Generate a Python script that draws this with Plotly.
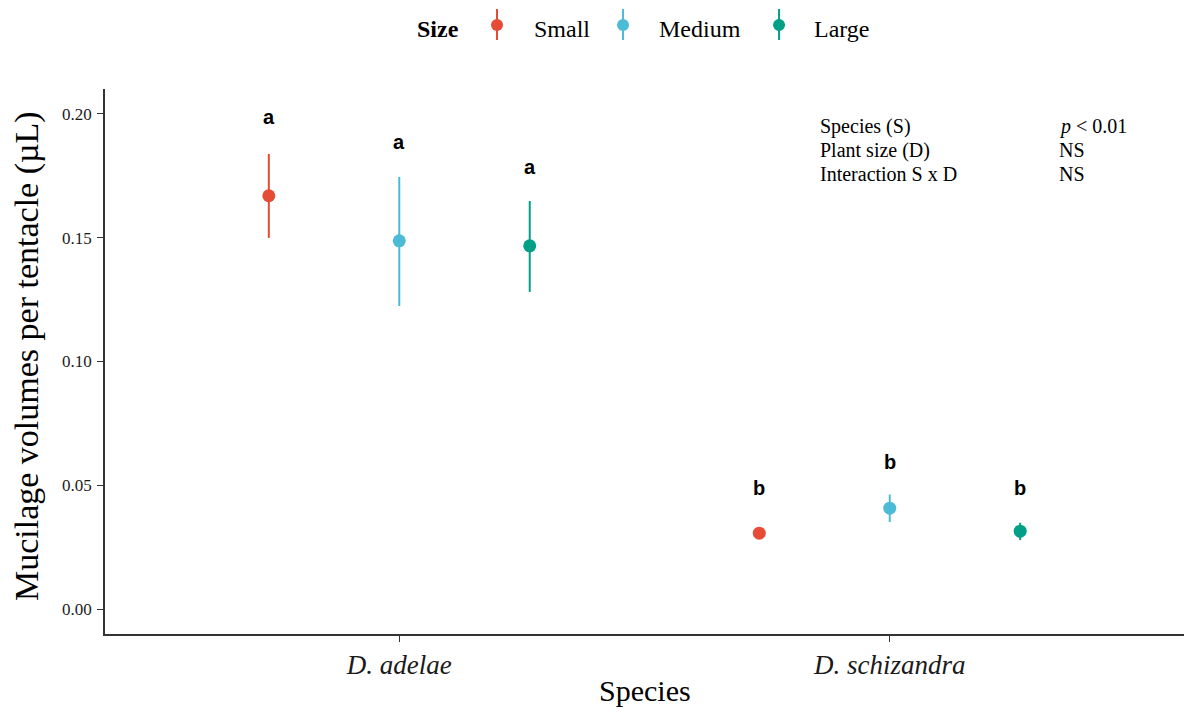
import plotly.graph_objects as go

# Data: mean mucilage volume per tentacle (µL) with interval bounds
species = ["D. adelae", "D. schizandra"]
sizes = ["Small", "Medium", "Large"]
size_colors = ["#E64B35", "#4DBBD5", "#00A087"]

small_mean = [0.1669, 0.0307]
small_low = [0.1499, 0.0292]
small_high = [0.1838, 0.0326]

medium_mean = [0.1487, 0.0408]
medium_low = [0.1224, 0.0352]
medium_high = [0.1745, 0.0463]

large_mean = [0.1467, 0.0315]
large_low = [0.1281, 0.0279]
large_high = [0.1648, 0.0349]

# Significance letters and their heights
small_letters = ["a", "b"]
medium_letters = ["a", "b"]
large_letters = ["a", "b"]
small_letter_y = [0.1989, 0.0489]
medium_letter_y = [0.1888, 0.0595]
large_letter_y = [0.1787, 0.0488]

# Model summary table
effect_names = ["Species (S)", "Plant size (D)", "Interaction S x D"]
effect_results = ["<i>p</i> &lt; 0.01", "NS", "NS"]

means = [small_mean, medium_mean, large_mean]
lows = [small_low, medium_low, large_low]
highs = [small_high, medium_high, large_high]
letters = [small_letters, medium_letters, large_letters]
letter_ys = [small_letter_y, medium_letter_y, large_letter_y]

dodge = [-0.266, 0.0, 0.266]
serif = "Liberation Serif, Times New Roman, serif"

fig = go.Figure()
annotations = []
for k, name in enumerate(sizes):
    xs = [i + dodge[k] for i in range(len(species))]
    m = means[k]
    up = [h - v for h, v in zip(highs[k], m)]
    dn = [v - lo for v, lo in zip(m, lows[k])]
    fig.add_trace(go.Scatter(
        x=xs, y=m, mode="markers", name=name, showlegend=False,
        marker=dict(color=size_colors[k], size=13, line=dict(width=0)),
        error_y=dict(type="data", array=up, arrayminus=dn, symmetric=False,
                     color=size_colors[k], thickness=2, width=0),
    ))
    for x, y, t in zip(xs, letter_ys[k], letters[k]):
        annotations.append(dict(
            x=x, y=y, xref="x", yref="y", text="<b>%s</b>" % t, showarrow=False,
            font=dict(family="Liberation Sans, Arial, sans-serif", size=20, color="black"),
            xanchor="center", yanchor="middle"))

# Summary table in the upper right
row_y = [0.932, 0.888, 0.844]
for name, res, yy in zip(effect_names, effect_results, row_y):
    annotations.append(dict(x=0.6608, y=yy, xref="paper", yref="paper", text=name,
                            showarrow=False, xanchor="left", yanchor="middle",
                            font=dict(family=serif, size=20, color="black")))
    annotations.append(dict(x=0.8823, y=yy, xref="paper", yref="paper", text=res,
                            showarrow=False, xanchor="left", yanchor="middle",
                            font=dict(family=serif, size=20, color="black")))

# Axis titles
annotations.append(dict(x=-0.0723, y=0.51, xref="paper", yref="paper",
                        text="Mucilage volumes per tentacle (µL)", textangle=-90,
                        showarrow=False, xanchor="center", yanchor="middle",
                        font=dict(family=serif, size=34, color="black")))
annotations.append(dict(x=0.5, y=-0.104, xref="paper", yref="paper", text="Species",
                        showarrow=False, xanchor="center", yanchor="middle",
                        font=dict(family=serif, size=30, color="black")))

# Legend drawn along the top
legend_y = 1.110
annotations.append(dict(x=0.3086, y=legend_y, xref="paper", yref="paper", text="<b>Size</b>",
                        showarrow=False, xanchor="center", yanchor="middle",
                        font=dict(family=serif, size=24, color="black")))
key_x = [0.3633, 0.4801, 0.6247]
label_x = [0.3957, 0.5116, 0.6552]
shapes = []
for k, name in enumerate(sizes):
    annotations.append(dict(x=label_x[k], y=legend_y, xref="paper", yref="paper", text=name,
                            showarrow=False, xanchor="left", yanchor="middle",
                            font=dict(family=serif, size=24, color="black")))
    shapes.append(dict(type="line", xref="paper", yref="paper",
                       xsizemode="pixel", ysizemode="pixel",
                       xanchor=key_x[k], yanchor=1.1174, x0=0, x1=0, y0=-15, y1=16,
                       line=dict(color=size_colors[k], width=2)))
    shapes.append(dict(type="circle", xref="paper", yref="paper",
                       xsizemode="pixel", ysizemode="pixel",
                       xanchor=key_x[k], yanchor=1.1174, x0=-6, x1=6, y0=-6, y1=6,
                       fillcolor=size_colors[k], line=dict(width=0)))

fig.update_layout(
    width=1184, height=713, autosize=False,
    paper_bgcolor="white", plot_bgcolor="white",
    margin=dict(l=105, r=0, t=89, b=79),
    showlegend=False,
    annotations=annotations, shapes=shapes,
    font=dict(family=serif, color="black"),
)
fig.update_xaxes(
    range=[-0.6, 1.6], tickvals=[0, 1],
    ticktext=["<i>%s</i>" % s for s in species],
    tickfont=dict(family=serif, size=27, color="#1a1a1a"),
    showline=True, linecolor="#333333", linewidth=1.5,
    ticks="outside", ticklen=6, tickwidth=1.2, tickcolor="#333333",
    showgrid=False, zeroline=False,
)
fig.update_yaxes(
    range=[-0.01, 0.21], tickvals=[0, 0.05, 0.10, 0.15, 0.20], tickformat=".2f",
    tickfont=dict(family=serif, size=17, color="#1a1a1a"),
    showline=True, linecolor="#333333", linewidth=1.5,
    ticks="outside", ticklen=6, tickwidth=1.2, tickcolor="#333333",
    ticklabelstandoff=2,
    showgrid=False, zeroline=False,
)

fig.write_html("out.html")
